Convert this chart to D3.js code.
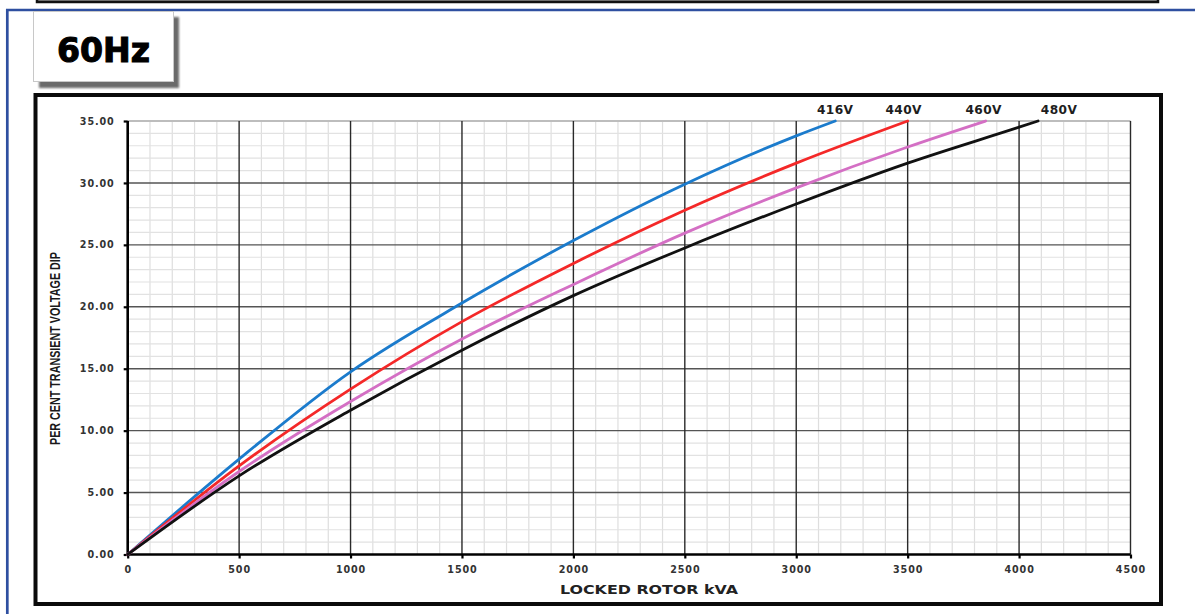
<!DOCTYPE html>
<html>
<head>
<meta charset="utf-8">
<script src="https://cdn.jsdelivr.net/npm/d3@7/dist/d3.min.js"></script>
<style>
  html, body { margin: 0; padding: 0; background: #fff; }
  svg { display: block; }
</style>
</head>
<body>
<svg id="chart" width="1195" height="614"></svg>
<script>
// ---- data ----
const kvaTicks = [0, 500, 1000, 1500, 2000, 2500, 3000, 3500, 4000, 4500];
const pctTicks = [0, 5, 10, 15, 20, 25, 30, 35];
const seriesNames = ["416V", "440V", "460V", "480V"];
const kva416 = [0, 500, 1000, 1500, 2000, 2500, 3000, 3175];
const pct416 = [0, 7.7, 14.75, 20.3, 25.35, 29.9, 33.8, 35];
const kva440 = [0, 500, 1000, 1500, 2000, 2500, 3000, 3500];
const pct440 = [0, 7.15, 13.35, 18.8, 23.5, 27.8, 31.6, 35];
const kva460 = [0, 500, 1000, 1500, 2000, 2500, 3000, 3500, 3850];
const pct460 = [0, 6.7, 12.35, 17.4, 21.8, 25.95, 29.6, 32.9, 35];
const kva480 = [0, 500, 1000, 1500, 2000, 2500, 3000, 3500, 4000, 4085];
const pct480 = [0, 6.35, 11.65, 16.5, 20.9, 24.75, 28.3, 31.6, 34.5, 35];
const titleText = "60Hz";
const xTitle = "LOCKED ROTOR kVA";
const yTitle = "PER CENT TRANSIENT VOLTAGE DIP";

// ---- styles ----
const seriesColors = ["#1b7bcc", "#f42828", "#d46fc4", "#111111"];
const labelDx = [0, -4, -2, 21];

const svg = d3.select("#chart");

// top partial panel
svg.append("rect").attr("x", 37).attr("y", -20).attr("width", 1121).attr("height", 22)
  .attr("fill", "#8e8e8e").attr("stroke", "#111").attr("stroke-width", 2.5);

// blue outer frame
svg.append("path").attr("d", "M6,10 H1195 M7.3,9 V614")
  .attr("fill", "none").attr("stroke", "#2e4fa0").attr("stroke-width", 2.7);

// title box with shadow
const defs = svg.append("defs");
defs.append("filter").attr("id", "blur").append("feGaussianBlur").attr("stdDeviation", 1.2);
svg.append("rect").attr("x", 39).attr("y", 17).attr("width", 140).attr("height", 71)
  .attr("fill", "#6a6a6a").attr("filter", "url(#blur)");
svg.append("rect").attr("x", 33.5).attr("y", 11.5).attr("width", 140).attr("height", 70)
  .attr("fill", "#fff").attr("stroke", "#c8c8c8").attr("stroke-width", 1);
svg.append("text").attr("x", 57).attr("y", 62).text(titleText)
  .attr("font-family", "DejaVu Sans").attr("font-weight", "bold").attr("font-size", 34)
  .attr("textLength", 93).attr("lengthAdjust", "spacingAndGlyphs").attr("fill", "#000")
  .attr("stroke", "#000").attr("stroke-width", 1.1);

// chart frame
svg.append("rect").attr("x", 35.5).attr("y", 95).attr("width", 1125.5).attr("height", 509)
  .attr("fill", "#fff").attr("stroke", "#0a0a0a").attr("stroke-width", 4);

// scales
const x = d3.scaleLinear().domain([0, 4500]).range([127.7, 1130.5]);
const y = d3.scaleLinear().domain([0, 35]).range([554.5, 121]);

const g = svg.append("g");

// minor grid
const minorX = d3.range(100, 4500, 100).filter(v => v % 500 !== 0);
const minorY = d3.range(1, 35, 1).filter(v => v % 5 !== 0);
g.selectAll("line.mx").data(minorX).enter().append("line")
  .attr("x1", d => x(d)).attr("x2", d => x(d)).attr("y1", y(0)).attr("y2", y(35))
  .attr("stroke", "#dedede").attr("stroke-width", 1.2);
g.selectAll("line.my").data(minorY).enter().append("line")
  .attr("x1", x(0)).attr("x2", x(4500)).attr("y1", d => y(d)).attr("y2", d => y(d))
  .attr("stroke", "#e2e2e2").attr("stroke-width", 1.2);

// major grid
g.selectAll("line.My").data(pctTicks.filter(v => v > 0 && v < 35)).enter().append("line")
  .attr("x1", x(0)).attr("x2", x(4500)).attr("y1", d => y(d)).attr("y2", d => y(d))
  .attr("stroke", "#555").attr("stroke-width", 1.4);
g.append("line").attr("x1", x(0)).attr("x2", x(4500)).attr("y1", y(35)).attr("y2", y(35))
  .attr("stroke", "#bdbdbd").attr("stroke-width", 2);
g.selectAll("line.Mx").data(kvaTicks.filter(v => v > 0)).enter().append("line")
  .attr("x1", d => x(d)).attr("x2", d => x(d)).attr("y1", y(0)).attr("y2", y(35))
  .attr("stroke", "#2a2a2a").attr("stroke-width", 1.4);

// axes
const fmtY = d3.format(".2f");
const yAxis = d3.axisLeft(y).tickValues(pctTicks).tickFormat(fmtY).tickSize(4).tickPadding(9);
const xAxis = d3.axisBottom(x).tickValues(kvaTicks).tickFormat(d3.format("d")).tickSize(4).tickPadding(5);

const gy = svg.append("g").attr("transform", `translate(${x(0)},0)`).call(yAxis);
const gx = svg.append("g").attr("transform", `translate(0,${y(0)})`).call(xAxis);
[gy, gx].forEach(a => {
  a.select(".domain").attr("stroke", "#000").attr("stroke-width", 2.6);
  a.selectAll(".tick line").attr("stroke", "#000").attr("stroke-width", 2.2);
  a.selectAll(".tick text").attr("font-family", "DejaVu Sans").attr("font-weight", "bold")
    .attr("font-size", 9.6).attr("letter-spacing", "0.9px").attr("fill", "#333");
});
gy.select(".domain").attr("d", `M0,${y(0)}V${y(35)}`);
gx.select(".domain").attr("d", `M${x(0)},0H${x(4500)}`);
gx.selectAll(".tick text").attr("dy", "0.95em");

// lines
const kvaAll = [kva416, kva440, kva460, kva480];
const pctAll = [pct416, pct440, pct460, pct480];
const line = d3.line().x(d => x(d[0])).y(d => y(d[1])).curve(d3.curveMonotoneX);
seriesNames.forEach((name, i) => {
  const pts = kvaAll[i].map((k, j) => [k, pctAll[i][j]]);
  svg.append("path").datum(pts).attr("d", line)
    .attr("fill", "none").attr("stroke", seriesColors[i]).attr("stroke-width", 2.8)
    .attr("stroke-linecap", "round");
  const endK = kvaAll[i][kvaAll[i].length - 1];
  svg.append("text").attr("x", x(endK) + labelDx[i]).attr("y", y(35) - 7)
    .attr("text-anchor", "middle").text(name)
    .attr("font-family", "DejaVu Sans").attr("font-weight", "bold").attr("font-size", 12.2)
    .attr("letter-spacing", "0.4px").attr("fill", "#1e1e1e");
});

// axis titles
svg.append("text").attr("x", 649).attr("y", 594).attr("text-anchor", "middle").text(xTitle)
  .attr("font-family", "DejaVu Sans").attr("font-weight", "bold").attr("font-size", 12.5)
  .attr("textLength", 178).attr("lengthAdjust", "spacingAndGlyphs").attr("fill", "#222");
svg.append("text").attr("transform", "translate(60,348.5) rotate(-90)")
  .attr("text-anchor", "middle").text(yTitle)
  .attr("font-family", "Liberation Sans").attr("font-weight", "bold").attr("font-size", 15)
  .attr("textLength", 193).attr("lengthAdjust", "spacingAndGlyphs").attr("fill", "#1a1a1a");
</script>
</body>
</html>
